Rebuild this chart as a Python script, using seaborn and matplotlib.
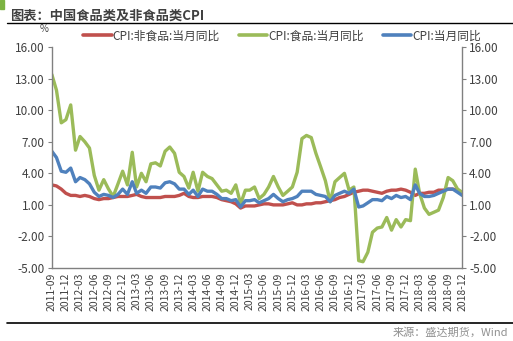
import numpy as np
import pandas as pd
import matplotlib
matplotlib.use("Agg")
import matplotlib.pyplot as plt
import matplotlib.dates as mdates
from matplotlib.patches import Rectangle
from matplotlib.lines import Line2D
import seaborn as sns

# Monthly CPI year-on-year, 2011-09 .. 2018-12 (%)
months = pd.date_range("2011-09-01", "2018-12-01", freq="MS")

cpi_nonfood = [
    2.9, 2.8, 2.5, 2.1,
    1.9, 1.9, 1.8, 1.9, 1.8, 1.6, 1.5, 1.6, 1.6, 1.7, 1.8, 1.8,
    1.8, 1.9, 2.0, 1.8, 1.7, 1.7, 1.7, 1.7, 1.8, 1.8, 1.8, 1.9,
    2.1, 1.8, 1.7, 1.7, 1.8, 1.8, 1.8, 1.7, 1.5, 1.4, 1.3, 1.1,
    0.7, 0.9, 0.9, 0.9, 1.0, 1.1, 1.1, 1.0, 1.0, 1.0, 1.1, 1.2,
    1.0, 1.0, 1.1, 1.1, 1.2, 1.2, 1.3, 1.4, 1.5, 1.7, 1.8, 2.0,
    2.2, 2.3, 2.4, 2.4, 2.3, 2.2, 2.1, 2.3, 2.4, 2.4, 2.5, 2.4,
    2.2, 1.9, 2.1, 2.1, 2.2, 2.2, 2.4, 2.4, 2.5, 2.5, 2.4, 2.1,
]
cpi_food = [
    13.4, 11.9, 8.8, 9.1,
    10.5, 6.2, 7.5, 7.0, 6.4, 3.8, 2.4, 3.4, 2.5, 1.8, 3.0, 4.2,
    2.9, 6.0, 2.7, 4.0, 3.2, 4.9, 5.0, 4.7, 6.1, 6.5, 5.9, 4.1,
    3.7, 2.6, 4.1, 2.3, 4.1, 3.7, 3.5, 2.9, 2.3, 2.4, 2.1, 2.9,
    1.1, 2.4, 2.4, 2.7, 1.6, 2.0, 2.7, 3.7, 2.7, 1.9, 2.3, 2.7,
    4.1, 7.3, 7.6, 7.4, 5.9, 4.6, 3.3, 1.3, 3.2, 3.6, 4.0, 2.4,
    2.7, -4.3, -4.4, -3.5, -1.6, -1.2, -1.1, -0.2, -1.4, -0.4, -1.1, -0.4,
    -0.5, 4.4, 2.1, 0.7, 0.1, 0.3, 0.5, 1.7, 3.6, 3.3, 2.5, 2.2,
]
cpi_total = [
    6.1, 5.5, 4.2, 4.1,
    4.5, 3.2, 3.6, 3.4, 3.0, 2.2, 1.8, 2.0, 1.9, 1.7, 2.0, 2.5,
    2.0, 3.2, 2.1, 2.4, 2.1, 2.7, 2.7, 2.6, 3.1, 3.2, 3.0, 2.5,
    2.5, 2.0, 2.4, 1.8, 2.5, 2.3, 2.3, 2.0, 1.6, 1.6, 1.4, 1.5,
    0.8, 1.4, 1.4, 1.5, 1.2, 1.4, 1.6, 2.0, 1.6, 1.3, 1.5, 1.6,
    1.8, 2.3, 2.3, 2.3, 2.0, 1.9, 1.8, 1.3, 1.9, 2.1, 2.3, 2.1,
    2.5, 0.8, 0.9, 1.2, 1.5, 1.5, 1.4, 1.8, 1.6, 1.9, 1.7, 1.8,
    1.5, 2.9, 2.1, 1.8, 1.8, 1.9, 2.1, 2.3, 2.5, 2.5, 2.2, 1.9,
]

series_names = ["CPI:非食品:当月同比", "CPI:食品:当月同比", "CPI:当月同比"]
series_colors = ["#C0504D", "#9BBB59", "#4F81BD"]

df = pd.concat([
    pd.DataFrame({"month": months, "value": vals, "series": name})
    for name, vals in zip(series_names, [cpi_nonfood, cpi_food, cpi_total])
], ignore_index=True)

sns.set_theme(style="white")
plt.rcParams["font.family"] = ["Noto Sans CJK SC", "DejaVu Sans"]
plt.rcParams["axes.unicode_minus"] = False

fig = plt.figure(figsize=(5.13, 3.41), dpi=100)
ax = fig.add_axes([0.101, 0.214, 0.80, 0.648])

sns.lineplot(data=df, x="month", y="value", hue="series",
             hue_order=series_names, palette=series_colors,
             linewidth=2.4, ax=ax, legend=False)

ax.set_xlim(months[0], months[-1])
ax.set_ylim(-5, 16)
yt = np.arange(-5, 16.01, 3)
ax.set_yticks(yt)
ax.set_yticklabels([f"{v:.2f}" for v in yt], fontsize=8.5, color="#404040")
ax.set_xlabel("")
ax.set_ylabel("")

ax.xaxis.set_major_locator(mdates.MonthLocator(bymonth=[3, 6, 9, 12]))
ax.xaxis.set_major_formatter(mdates.DateFormatter("%Y-%m"))
plt.setp(ax.get_xticklabels(), rotation=90, fontsize=7.5, color="#404040")
ax.tick_params(axis="x", length=0, pad=3)
ax.tick_params(axis="y", length=3, width=0.8, color="#808080", left=True, pad=2)

for side in ["top", "right"]:
    ax.spines[side].set_visible(False)
for side in ["left", "bottom"]:
    ax.spines[side].set_color("#808080")
    ax.spines[side].set_linewidth(1.0)

# Secondary axis on the right with the same scale
ax2 = ax.twinx()
ax2.set_ylim(-5, 16)
ax2.set_yticks(yt)
ax2.set_yticklabels([f"{v:.2f}" for v in yt], fontsize=8.5, color="#404040")
ax2.tick_params(axis="y", length=3, width=0.8, color="#808080", right=True, pad=2)
for side in ["top", "left", "bottom"]:
    ax2.spines[side].set_visible(False)
ax2.spines["right"].set_color("#808080")
ax2.spines["right"].set_linewidth(1.0)
ax2.grid(False)

# Legend across the top
handles = [Line2D([0], [0], color=c, lw=2.6) for c in series_colors]
fig.legend(handles, series_names, loc="center", bbox_to_anchor=(0.55, 0.895),
           ncol=3, frameon=False, fontsize=8.5, handlelength=2.4,
           handletextpad=0.1, columnspacing=1.6, labelcolor="#404040")

fig.text(0.086, 0.905, "%", fontsize=7, color="#404040", ha="center")

# Header and footer
fig.text(0.02, 0.955, "图表：中国食品类及非食品类CPI", fontsize=9.5,
         fontweight="bold", color="#404040", va="center", ha="left")
fig.add_artist(Line2D([0.013, 1.0], [0.932, 0.932], color="black", lw=1.0))
fig.add_artist(Line2D([0.013, 1.0], [0.053, 0.053], color="black", lw=1.2))
fig.add_artist(Rectangle((0.0, 0.975), 0.008, 0.025, color="#7CB342",
                         transform=fig.transFigure))
fig.text(0.99, 0.026, "来源：盛达期货，Wind", fontsize=8, style="italic",
         color="#909090", ha="right", va="center")

fig.savefig("out.png", dpi=100)
